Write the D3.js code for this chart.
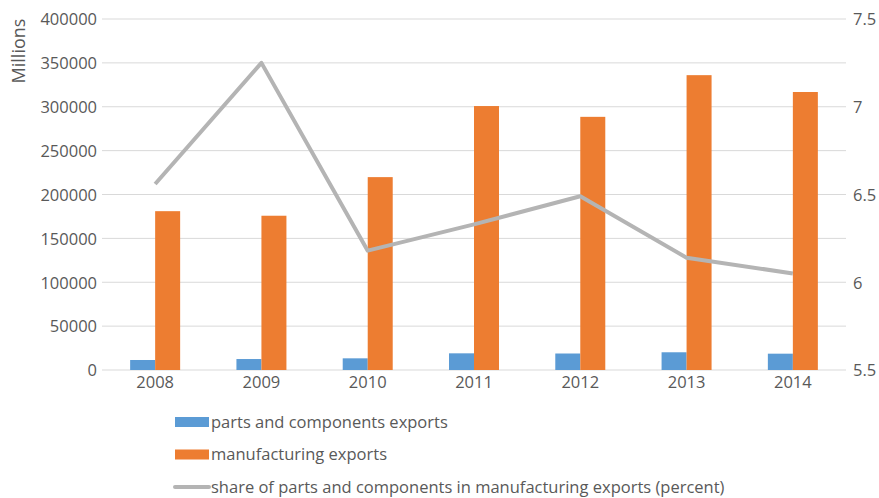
<!DOCTYPE html>
<html>
<head>
<meta charset="utf-8">
<title>Parts and components exports</title>
<style>
  body { margin: 0; background: #fff; }
  svg text { font-family: "Open Sans", sans-serif; fill: #595959; }
</style>
</head>
<body>
<svg width="879" height="498"></svg>
<script src="https://cdn.jsdelivr.net/npm/d3@7"></script>
<script>
// data
var years = ["2008", "2009", "2010", "2011", "2012", "2013", "2014"];
var partsExports = [11400, 12500, 13300, 19000, 18800, 20200, 18600];
var manufExports = [181000, 175800, 219800, 300800, 288500, 336000, 316800];
var sharePercent = [6.56, 7.25, 6.18, 6.33, 6.49, 6.14, 6.05];
var leftTicks = [0, 50000, 100000, 150000, 200000, 250000, 300000, 350000, 400000];
var rightTicks = [5.5, 6, 6.5, 7, 7.5];

var svg = d3.select("svg");
var plotLeft = 102, plotRight = 846, plotTop = 19, plotBottom = 370;

var x = d3.scaleBand().domain(years).range([plotLeft, plotRight]).paddingInner(0).paddingOuter(0);
var xs = d3.scaleBand().domain(["parts", "manuf"]).range([0, 50]);
var y = d3.scaleLinear().domain([0, 400000]).range([plotBottom, plotTop]);
var y2 = d3.scaleLinear().domain([5.5, 7.5]).range([plotBottom, plotTop]);

// gridlines
svg.selectAll(".grid")
  .data(leftTicks)
  .enter().append("line")
  .attr("x1", plotLeft).attr("x2", plotRight)
  .attr("y1", d => y(d)).attr("y2", d => y(d))
  .style("stroke", "#d9d9d9")
  .style("stroke-width", 1);

// left axis
var yAxis = svg.append("g")
  .attr("transform", `translate(${plotLeft - 5},0)`)
  .call(d3.axisLeft(y).tickValues(leftTicks).tickSize(0).tickPadding(0).tickFormat(d3.format("d")));
yAxis.select(".domain").remove();
yAxis.selectAll("text").style("font-size", "16.5px").attr("dy", "0.35em");

// right axis
var y2Axis = svg.append("g")
  .attr("transform", `translate(${plotRight + 7},0)`)
  .call(d3.axisRight(y2).tickValues(rightTicks).tickSize(0).tickPadding(0).tickFormat(d => d));
y2Axis.select(".domain").remove();
y2Axis.selectAll("text").style("font-size", "16.5px").attr("dy", "0.35em");

// x axis
var xAxis = svg.append("g")
  .attr("transform", `translate(0,${plotBottom})`)
  .call(d3.axisBottom(x).tickSize(0).tickPadding(6));
xAxis.select(".domain").remove();
xAxis.selectAll("text").style("font-size", "16.5px");

svg.append("text")
  .attr("transform", "translate(25,51) rotate(-90)")
  .attr("text-anchor", "middle")
  .style("font-size", "18px")
  .text("Millions");

// bars
var groups = svg.selectAll(".yr")
  .data(years)
  .enter().append("g")
  .attr("transform", d => `translate(${x(d) + x.bandwidth() / 2 - 25},0)`);

groups.append("rect")
  .attr("x", xs("parts"))
  .attr("width", xs.bandwidth())
  .attr("y", (d, i) => y(partsExports[i]))
  .attr("height", (d, i) => plotBottom - y(partsExports[i]))
  .style("fill", "#5b9bd5");

groups.append("rect")
  .attr("x", xs("manuf"))
  .attr("width", xs.bandwidth())
  .attr("y", (d, i) => y(manufExports[i]))
  .attr("height", (d, i) => plotBottom - y(manufExports[i]))
  .style("fill", "#ed7d31");

// share line
var line = d3.line()
  .x((d, i) => x(years[i]) + x.bandwidth() / 2)
  .y(d => y2(d));
svg.append("path")
  .attr("d", line(sharePercent))
  .style("fill", "none")
  .style("stroke", "#b4b4b4")
  .style("stroke-width", 4)
  .style("stroke-linejoin", "round");

// legend
var legendItems = [
  {label: "parts and components exports", color: "#5b9bd5", kind: "rect"},
  {label: "manufacturing exports", color: "#ed7d31", kind: "rect"},
  {label: "share of parts and components in manufacturing exports (percent)", color: "#b4b4b4", kind: "line"}
];
var lg = svg.selectAll(".legend")
  .data(legendItems)
  .enter().append("g")
  .attr("transform", (d, i) => `translate(175,${422 + i * 32.5})`);
lg.filter(d => d.kind === "rect").append("rect")
  .attr("x", 0).attr("y", -5).attr("width", 34).attr("height", 10)
  .style("fill", d => d.color);
lg.filter(d => d.kind === "line").append("line")
  .attr("x1", 0).attr("x2", 34).attr("y1", 0).attr("y2", 0)
  .style("stroke", d => d.color).style("stroke-width", 4).style("stroke-linecap", "round");
lg.append("text")
  .attr("x", 36).attr("dy", "0.35em")
  .style("font-size", "16.5px")
  .text(d => d.label);
</script>
</body>
</html>
